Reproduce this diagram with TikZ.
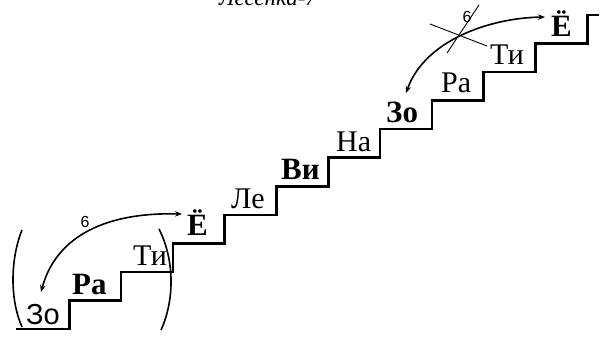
\documentclass[tikz,border=0pt]{standalone}
\usepackage{fontspec}
\setmainfont{Liberation Serif}
\newfontfamily\sansfnt{Liberation Sans}
\usetikzlibrary{arrows.meta}
\begin{document}
\begin{tikzpicture}[x=1pt,y=-1pt,
  stairs/.style={line width=2.6pt, line join=miter, line cap=rect},
  lbl/.style={inner sep=0pt, anchor=base west, font=\fontsize{30}{32}\selectfont},
  blbl/.style={inner sep=0pt, anchor=base west, font=\fontsize{31}{33}\selectfont\bfseries},
  slbl/.style={inner sep=0pt, anchor=base west, font=\sansfnt\fontsize{29}{31}\selectfont},
  arcline/.style={line width=1.6pt, {Stealth[length=7pt,width=5.5pt]}-{Stealth[length=7pt,width=5.5pt]}},
  crossline/.style={line width=0.9pt},
  paren/.style={line width=1.6pt},
  num/.style={inner sep=0pt, font=\sansfnt\fontsize{16}{18}\selectfont}
]
\useasboundingbox (0,0) rectangle (604,342);
\clip (0,0) rectangle (604,342);
% title (cut at the top edge, as in the reference)
\node[inner sep=0pt, anchor=base, font=\itshape\fontsize{23}{25}\selectfont] (title) at (268,6) {Лесенка-7};
% staircase
\draw[stairs] (17,329) \foreach \i in {1,...,11} { -| ({17.5+51.8*\i},{329-28.55*\i}) } -- ++(10,0);
% labels
\node[slbl] (zo1) at (26,324) {Зо};
\node[blbl] (ra1) at (72,294) {Ра};
\node[lbl]  (ti1) at (133,265) {Ти};
\node[blbl] (yo1) at (187,235) {Ё};
\node[lbl]  (le)  at (231,208) {Ле};
\node[blbl] (vi)  at (281,179) {Ви};
\node[lbl]  (na)  at (336,151) {На};
\node[blbl] (zo2) at (386,122) {Зо};
\node[lbl]  (ra2) at (441,93) {Ра};
\node[lbl]  (ti2) at (490,65) {Ти};
\node[blbl] (yo2) at (551,37) {Ё};
% arc ends
\coordinate (b1) at (182,214);
\coordinate (b2) at (41,292);
\coordinate (t1) at (545,17);
\coordinate (t2) at (406,93);
% arcs
\draw[arcline] (b2) .. controls (55,240) and (100,212) .. (b1);
\node[num] (six1) at (85,222) {6};
\draw[arcline] (t2) .. controls (425,40) and (490,18) .. (t1);
\node[num] (six2) at (467,17) {6};
% crossing out
\coordinate (x1) at (430,24);
\coordinate (x2) at (487,46);
\coordinate (x3) at (479,5);
\coordinate (x4) at (447,53);
\draw[crossline] (x1) -- (x2);
\draw[crossline] (x3) -- (x4);
% parentheses
\draw[paren] (22,230) .. controls (10,260) and (10,300) .. (22,327);
\draw[paren] (159,229) .. controls (174.7,260) and (174.7,300) .. (161,330);
\end{tikzpicture}
\end{document}
